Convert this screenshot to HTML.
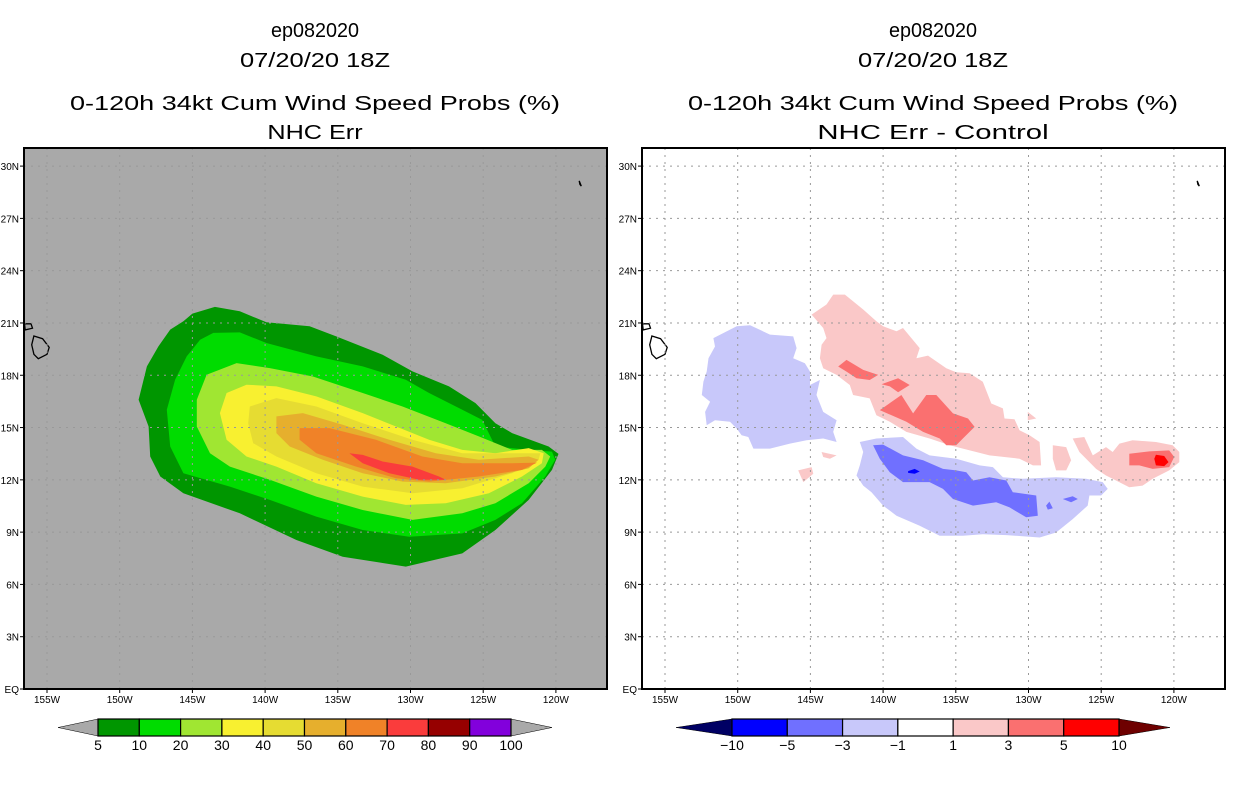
<!DOCTYPE html>
<html><head><meta charset="utf-8"><style>
html,body{margin:0;padding:0;background:#fff;}
svg{display:block;}
text{font-family:"Liberation Sans",sans-serif;}
</style></head><body>
<svg id="chart" width="1236" height="800" viewBox="0 0 1236 800" xmlns="http://www.w3.org/2000/svg">
</svg>
<script>
// ---- data ----
const latTicks = [0,3,6,9,12,15,18,21,24,27,30];
const latLabels = ["EQ","3N","6N","9N","12N","15N","18N","21N","24N","27N","30N"];
const lonTicks = [-155,-150,-145,-140,-135,-130,-125,-120];
const lonLabels = ["155W","150W","145W","140W","135W","130W","125W","120W"];
const probLevels = ["5","10","20","30","40","50","60","70","80","90","100"];
const probColors = ["#009600","#00dc00","#a0e632","#f8f030","#e6dc32","#e6af2d","#f08228","#fa3c3c","#960000","#8200dc"];
const diffLevels = ["-10","-5","-3","-1","1","3","5","10"];
const diffColors = ["#0000ff","#7070ff","#c8c8fa","#ffffff","#fac8c8","#fa7070","#ff0000"];

// left panel contours [lon,lat]
const prob5 = [[-145,21.54],[-143.45,21.92],[-141.74,21.67],[-139.91,21.04],[-136.94,20.81],[-135.11,20.23],[-131.92,19.18],[-129.86,18.22],[-127.35,17.36],[-125.53,16.40],[-124.16,15.25],[-123.01,14.68],[-120.5,13.91],[-119.82,13.49],[-120.27,12.57],[-121.87,10.85],[-124.16,9.12],[-126.44,7.78],[-130.32,7.02],[-134.66,7.59],[-137.85,8.55],[-141.74,10.08],[-145.62,11.23],[-147.21,12.19],[-147.9,13.34],[-148.01,15.06],[-148.7,16.59],[-148.13,18.51],[-147.33,19.66],[-146.53,20.62],[-145.62,21.10]];
const prob10 = [[-143.56,20.43],[-141.74,20.46],[-139.91,19.85],[-136.48,19.08],[-133.29,18.51],[-130.32,17.74],[-128.72,16.98],[-126.44,16.02],[-125.07,15.44],[-124.16,13.91],[-121.87,13.72],[-120.27,13.62],[-120.05,13.15],[-120.73,12.19],[-122.33,10.66],[-124.16,9.70],[-126.44,8.93],[-130.09,8.74],[-133.29,9.12],[-136.48,9.89],[-139.68,10.85],[-142.42,11.61],[-145.62,12.38],[-146.53,13.91],[-146.76,16.02],[-146.19,17.74],[-145.39,19.08],[-144.47,20.04]];
const prob20 = [[-144.02,18.03],[-141.96,18.70],[-139.68,18.41],[-136.71,17.93],[-133.29,16.98],[-130.55,16.21],[-127.58,15.25],[-125.3,14.49],[-123.01,13.72],[-120.96,13.72],[-120.39,13.34],[-120.73,12.76],[-121.87,11.80],[-124.16,10.66],[-126.44,10.08],[-129.86,9.70],[-133.29,10.27],[-136.48,11.04],[-139.68,12.00],[-142.42,12.76],[-143.79,13.53],[-144.7,15.06],[-144.7,16.59]];
const prob30 = [[-142.65,16.98],[-141.28,17.46],[-139.22,17.36],[-136.48,16.79],[-133.29,15.83],[-131,15.06],[-128.72,14.30],[-126.44,13.72],[-124.16,13.53],[-121.87,13.82],[-120.84,13.53],[-120.96,12.95],[-122.33,12.19],[-124.61,11.23],[-127.58,10.66],[-130.32,10.56],[-133.29,11.04],[-136.48,11.80],[-139.22,12.76],[-141.28,13.34],[-142.65,14.30],[-143.11,15.83]];
const prob40 = [[-141.05,16.21],[-139.22,16.69],[-136.48,16.21],[-133.29,15.25],[-129.86,14.30],[-126.44,13.53],[-123.01,13.53],[-121.07,13.53],[-121.19,13.15],[-123.01,12.38],[-126.44,11.52],[-129.86,11.23],[-133.29,11.61],[-136.48,12.38],[-139.22,13.34],[-140.82,14.10],[-141.16,15.25]];
const prob50 = [[-139.22,15.64],[-137.4,15.83],[-134.66,15.16],[-131.46,14.30],[-128.26,13.53],[-125.3,13.15],[-121.87,13.34],[-121.19,13.15],[-121.87,12.67],[-124.16,12.19],[-127.58,11.80],[-130.55,11.90],[-133.29,12.38],[-136.03,13.15],[-138.31,13.91],[-139.22,14.68]];
const prob60 = [[-137.63,14.97],[-135.57,14.97],[-132.37,14.30],[-129.18,13.34],[-126.44,12.95],[-123.01,12.95],[-121.3,12.99],[-122.33,12.57],[-125.3,12.19],[-128.72,11.90],[-131,12.09],[-133.74,12.76],[-136.48,13.53],[-137.63,14.30]];
const prob70 = [[-134.2,13.53],[-133.29,13.43],[-131.92,13.05],[-129.86,12.76],[-128.04,12.19],[-127.58,12.00],[-129.41,12.00],[-131.46,12.38],[-133.29,12.95]];

// right panel contours
const negWest = [[-151.67,20.13],[-150.07,20.81],[-149.15,20.87],[-147.78,20.33],[-146.18,20.23],[-145.95,19.56],[-146.18,18.98],[-145.38,18.69],[-145.03,18.21],[-145.03,17.44],[-144.35,17.73],[-144.58,16.87],[-144.12,15.9],[-143.2,15.42],[-143.43,14.75],[-143.2,14.17],[-144.12,14.37],[-145.26,14.27],[-146.41,14.08],[-147.78,13.79],[-148.92,13.79],[-149.27,14.46],[-149.73,14.56],[-150.07,14.94],[-150.53,15.33],[-151.56,15.42],[-152.13,15.13],[-152.24,15.9],[-151.9,16.48],[-152.47,16.87],[-152.36,17.63],[-152.13,18.21],[-152.01,18.98],[-151.56,19.65]];
const negSouth1 = [[-141.6,14.17],[-140.46,14.37],[-138.63,14.46],[-137.71,13.79],[-136.8,13.4],[-134.97,13.21],[-133.36,12.83],[-132.45,12.73],[-131.76,12.15],[-130.39,12.06],[-128.1,12.15],[-126.04,12.06],[-124.9,11.87],[-124.55,11.48],[-125.01,11.1],[-125.81,11.1],[-125.93,10.52],[-126.96,9.75],[-128.1,8.98],[-129.24,8.69],[-131.53,8.83],[-133.14,8.88],[-134.51,8.79],[-136.11,8.79],[-137.48,9.37],[-139.08,9.94],[-140,10.52],[-140.8,11.29],[-141.37,11.67],[-141.83,12.25],[-141.6,12.83],[-141.37,13.6]];
const negSouth3 = [[-140.69,13.98],[-140,14.02],[-138.63,13.4],[-137.25,13.12],[-135.88,12.63],[-134.97,12.54],[-134.28,12.44],[-133.82,11.96],[-132.68,12.15],[-131.53,11.96],[-131.08,11.29],[-129.47,11.1],[-129.36,9.94],[-130.16,9.85],[-131.3,10.42],[-132.22,10.71],[-133.82,10.52],[-135.19,10.9],[-135.88,11.48],[-136.8,11.87],[-138.63,11.87],[-139.54,12.44],[-140.23,13.21]];
const negSmallA = [[-127.64,10.9],[-126.96,11.06],[-126.61,10.9],[-127.07,10.71]];
const negSmallB = [[-128.79,10.52],[-128.56,10.75],[-128.33,10.37],[-128.67,10.29]];
const negSouth5 = [[-138.28,12.5],[-137.83,12.63],[-137.48,12.48],[-137.83,12.35],[-138.28,12.4]];
const posMain1 = [[-144.92,21.48],[-143.89,22.06],[-143.43,22.63],[-142.63,22.63],[-141.37,21.77],[-140.46,21.1],[-140,20.81],[-139.08,20.52],[-138.63,20.71],[-137.48,19.56],[-137.71,18.98],[-136.91,19.13],[-135.65,18.4],[-134.97,18.17],[-134.05,18.12],[-133.14,17.63],[-132.56,16.38],[-131.76,16.1],[-131.65,15.52],[-130.96,15.48],[-130.62,14.85],[-129.93,14.56],[-129.24,14.17],[-129.13,12.83],[-129.7,12.83],[-130.62,13.21],[-132.68,13.4],[-134.51,13.79],[-135.42,13.98],[-136.8,14.37],[-138.4,14.75],[-139.54,15.33],[-140.46,15.71],[-140.92,16.67],[-142.06,16.87],[-142.29,17.44],[-143.2,18.02],[-144.12,18.4],[-144.35,18.98],[-144.23,19.75],[-143.89,20.13],[-144.12,20.71]];
const posEast1 = [[-126.96,14.37],[-126.16,14.46],[-125.58,13.4],[-124.67,13.88],[-124.21,13.6],[-123.75,14.08],[-122.84,14.27],[-121.24,14.17],[-120.09,13.98],[-119.63,13.6],[-119.63,13.02],[-120.32,12.54],[-121.46,12.06],[-122.15,11.67],[-123.07,11.58],[-123.98,11.96],[-124.67,12.25],[-125.35,12.63],[-126.04,13.21],[-126.5,13.6]];
const posSmall1 = [[-128.33,13.98],[-127.41,13.88],[-127.07,13.12],[-127.41,12.54],[-128.1,12.54],[-128.33,13.21]];
const posSmall2 = [[-144.23,13.6],[-143.2,13.4],[-143.66,13.21],[-144.12,13.31]];
const posSmall3 = [[-145.84,12.54],[-144.92,12.73],[-144.8,12.35],[-145.49,11.87]];
const posSmall4 = [[-130.05,15.9],[-129.47,15.52],[-130.05,15.42]];
const posMain3a = [[-143.09,18.5],[-142.52,18.88],[-141.37,18.31],[-140.34,18.02],[-140.92,17.73],[-141.83,17.83],[-142.52,18.21]];
const posMain3b = [[-140.11,17.48],[-138.97,17.83],[-138.17,17.44],[-138.97,17.02],[-139.54,17.36]];
const posMain3c = [[-140.23,16.0],[-138.74,16.87],[-137.94,15.81],[-137.03,16.87],[-136.34,16.87],[-135.19,15.81],[-134.16,15.52],[-133.71,15.04],[-134.51,14.37],[-134.97,13.98],[-135.65,13.98],[-136.11,14.37],[-137.25,14.75],[-138.4,15.33]];
const posEast3 = [[-123.07,13.5],[-121.69,13.63],[-120.32,13.69],[-119.98,13.31],[-120.32,12.73],[-121.46,12.63],[-122.38,12.83],[-123.07,12.83]];
const posEast5 = [[-121.24,13.44],[-120.67,13.37],[-120.37,13.02],[-120.67,12.79],[-121.24,12.83],[-121.35,13.21]];
const hawaiiBig = [[-155.9,20.25],[-155.3,20.1],[-154.85,19.6],[-155.0,19.2],[-155.6,18.95],[-155.9,19.2],[-156.05,19.75]];
const maui = [[-156.55,20.95],[-156.1,20.95],[-156.0,20.7],[-156.5,20.6]];
const islandE = [[-118.4,29.15],[-118.3,28.95],[-118.25,28.85],[-118.35,28.95]];

// ---- drawing ----
const NS="http://www.w3.org/2000/svg";
const svg=document.getElementById('chart');
const BOX={x0:24,x1:607,y0:148,y1:689};
function xs(lon,dx){return 47+(lon+155)*14.54+dx;}
function ys(lat){return 689-lat*17.43;}
function mk(tag,attrs,parent){const e=document.createElementNS(NS,tag);for(const k in attrs)e.setAttribute(k,attrs[k]);(parent||svg).appendChild(e);return e;}
function poly(pts,dx,fill,parent,name){
  const p=mk('polygon',{points:pts.map(q=>xs(q[0],dx).toFixed(1)+','+ys(q[1]).toFixed(1)).join(' '),fill:fill},parent);
  
  
  return p;
}
function txt(s,x,y,size,anchor,parent,name,len){
  const t=mk('text',{x:x,y:y,'font-size':size,'text-anchor':anchor||'middle',fill:'#000'},parent);
  if(len){t.setAttribute('textLength',len);t.setAttribute('lengthAdjust','spacingAndGlyphs');}
  t.textContent=s;
  
  
  return t;
}

function panel(dx,bg,title2,drawFill,prefix){
  const g=mk('g',{});
  
  
  const cx=315+dx*1.0;
  txt('ep082020',cx,37,20,'middle',g,prefix+'-storm-id',88);
  txt('07/20/20 18Z',cx,67,20,'middle',g,prefix+'-date',150);
  txt('0-120h 34kt Cum Wind Speed Probs (%)',cx,110,20,'middle',g,prefix+'-title',490);
  txt(title2,cx,139,20,'middle',g,prefix+'-subtitle',title2.length*13.6);
  const defs=mk('defs',{},g);
  const cp=mk('clipPath',{id:'clip'+prefix},defs);
  mk('rect',{x:BOX.x0+dx,y:BOX.y0,width:BOX.x1-BOX.x0,height:BOX.y1-BOX.y0},cp);
  const bgr=mk('rect',{x:BOX.x0+dx,y:BOX.y0,width:BOX.x1-BOX.x0,height:BOX.y1-BOX.y0,fill:bg},g);
  
  
  const fg=mk('g',{'clip-path':'url(#clip'+prefix+')'},g);
  
  
  drawFill(fg);
  // coastlines
  [hawaiiBig,maui,islandE].forEach((pp,i)=>{
    const c=poly(pp,dx,bg,fg,'coastline');
    c.setAttribute('stroke','#000');c.setAttribute('stroke-width','1.3');
  });
  // grid
  const gg=mk('g',{stroke:'#999','stroke-width':1,'stroke-dasharray':'2,5'},fg);
  
  
  latTicks.forEach(l=>{ if(l>0) mk('line',{x1:BOX.x0+dx,x2:BOX.x1+dx,y1:ys(l),y2:ys(l)},gg);});
  lonTicks.forEach(l=>{ mk('line',{x1:xs(l,dx),x2:xs(l,dx),y1:BOX.y0,y2:BOX.y1},gg);});
  const br=mk('rect',{x:BOX.x0+dx,y:BOX.y0,width:BOX.x1-BOX.x0,height:BOX.y1-BOX.y0,fill:'none',stroke:'#000','stroke-width':2},g);
  
  
  latTicks.forEach((l,i)=>{
    mk('line',{x1:BOX.x0+dx-4,x2:BOX.x0+dx,y1:ys(l),y2:ys(l),stroke:'#000','stroke-width':1},g);
    txt(latLabels[i],BOX.x0+dx-5,ys(l)+4,10,'end',g,prefix+'-lat-label');
  });
  lonTicks.forEach((l,i)=>{
    mk('line',{x1:xs(l,dx),x2:xs(l,dx),y1:BOX.y1,y2:BOX.y1+4,stroke:'#000','stroke-width':1},g);
    txt(lonLabels[i],xs(l,dx),BOX.y1+14,10,'middle',g,prefix+'-lon-label',26);
  });
}

panel(0,'#a9a9a9','NHC Err',fg=>{
  [[prob5,0],[prob10,1],[prob20,2],[prob30,3],[prob40,4],[prob50,5],[prob60,6],[prob70,7]].forEach(a=>poly(a[0],0,probColors[a[1]],fg,'prob-contour-'+probLevels[a[1]]));
},'left');

panel(618,'#ffffff','NHC Err - Control',fg=>{
  const d=618;
  [negWest,negSouth1].forEach(p=>poly(p,d,diffColors[2],fg,'diff-contour-neg1'));
  [negSouth3,negSmallA,negSmallB].forEach(p=>poly(p,d,diffColors[1],fg,'diff-contour-neg3'));
  poly(negSouth5,d,diffColors[0],fg,'diff-contour-neg5');
  [posMain1,posEast1,posSmall1,posSmall2,posSmall3,posSmall4].forEach(p=>poly(p,d,diffColors[4],fg,'diff-contour-pos1'));
  [posMain3a,posMain3b,posMain3c,posEast3].forEach(p=>poly(p,d,diffColors[5],fg,'diff-contour-pos3'));
  poly(posEast5,d,diffColors[6],fg,'diff-contour-pos5');
},'right');

// colorbars
function colorbar(x0,x1,triL,triR,colors,labels,leftTriColor,rightTriColor,name){
  const g=mk('g',{});
  
  
  const y0=719,y1=736,ym=(y0+y1)/2,n=colors.length,w=(x1-x0)/n;
  const l=mk('polygon',{points:`${triL},${ym} ${x0},${y0} ${x0},${y1}`,fill:leftTriColor,stroke:'#000','stroke-width':0.5},g);
  
  
  const r=mk('polygon',{points:`${triR},${ym} ${x1},${y0} ${x1},${y1}`,fill:rightTriColor,stroke:'#000','stroke-width':0.5},g);
  
  
  colors.forEach((c,i)=>{
    const b=mk('rect',{x:x0+i*w,y:y0,width:w,height:y1-y0,fill:c,stroke:'#000','stroke-width':1.2},g);
    
    
  });
  labels.forEach((s,i)=>txt(s.replace('-','\u2212'),x0+i*w,750,14,'middle',g,name+'-label'));
}
colorbar(98,511,58,552,probColors,probLevels,'#a9a9a9','#a9a9a9','prob-colorbar');
colorbar(732,1119,676,1170,diffColors,diffLevels,'#000064','#6e0000','diff-colorbar');
</script>
</body></html>
